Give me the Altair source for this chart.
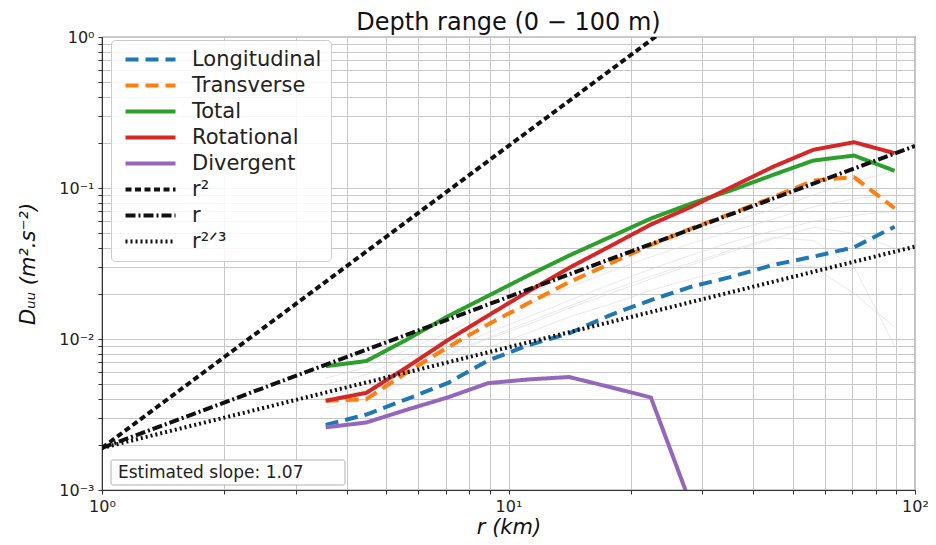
import altair as alt
import pandas as pd

# ---- data ----
r_km = [3.55, 4.47, 5.62, 7.08, 8.91, 11.2, 14.1, 17.8, 22.4, 28.2, 35.5, 44.7, 56.2, 70.8, 89.1]

longitudinal = [0.0027, 0.00316, 0.0040, 0.0051, 0.0072, 0.0091, 0.0109, 0.0144, 0.0181, 0.0222, 0.0259, 0.0309, 0.0351, 0.0405, 0.0554]
transverse = [0.0039, 0.0040, 0.0060, 0.0088, 0.0125, 0.0173, 0.0238, 0.0316, 0.042, 0.054, 0.068, 0.0868, 0.112, 0.118, 0.0734]
total = [0.0066, 0.00715, 0.0099, 0.0141, 0.0193, 0.0264, 0.0357, 0.0474, 0.0628, 0.079, 0.097, 0.122, 0.152, 0.164, 0.130]
rotational = [0.0039, 0.0044, 0.0065, 0.0098, 0.0143, 0.0207, 0.0296, 0.0412, 0.0573, 0.0752, 0.102, 0.138, 0.179, 0.201, 0.170]
divergent = [0.0026, 0.0028, 0.0034, 0.0041, 0.0051, 0.0054, 0.0056, 0.0048, 0.0041, 0.00078]

# faint individual profiles in the background
bg_profiles = [
    [0.0045, 0.0050, 0.0065, 0.0085, 0.011, 0.014, 0.018, 0.023, 0.029, 0.036, 0.044, 0.052, 0.060, 0.066, 0.070],
    [0.0040, 0.0046, 0.0060, 0.0078, 0.010, 0.0125, 0.016, 0.020, 0.025, 0.031, 0.038, 0.046, 0.055, 0.050, 0.040],
    [0.0050, 0.0058, 0.0075, 0.010, 0.013, 0.017, 0.022, 0.028, 0.035, 0.043, 0.052, 0.062, 0.075, 0.085, 0.090],
    [0.0035, 0.0040, 0.0052, 0.0068, 0.0088, 0.011, 0.014, 0.017, 0.021, 0.025, 0.029, 0.032, 0.030, 0.020, 0.012],
    [0.0055, 0.0065, 0.0085, 0.011, 0.015, 0.020, 0.026, 0.033, 0.041, 0.050, 0.060, 0.072, 0.090, 0.110, 0.130],
    [0.0042, 0.0048, 0.0062, 0.0080, 0.0102, 0.013, 0.0165, 0.021, 0.026, 0.032, 0.039, 0.047, 0.045, 0.030, 0.009],
]

ref_r = [1, 100]
ref_r2 = [0.0019, 19.0]
ref_r1 = [0.0019, 0.19]
ref_r23 = [0.0019, 0.0409]

series_names = ["Longitudinal", "Transverse", "Total", "Rotational", "Divergent", "r²", "r", "r²ᐟ³"]
series_colors = ["#1f77b4", "#ff7f0e", "#2ca02c", "#d62728", "#9467bd", "#111111", "#111111", "#111111"]
series_dash = [[13, 7], [13, 7], [1, 0], [1, 0], [1, 0], [6, 3.5], [10, 3, 2, 3], [2, 3]]
series_width = [4, 4, 3.5, 3.5, 3.5, 1.6, 1.6, 1.6]

slope_text = "Estimated slope: 1.07"

# ---- build tables ----
rows = []
for name, vals in zip(series_names[:5], [longitudinal, transverse, total, rotational, divergent]):
    for i, v in enumerate(vals):
        rows.append({"r": r_km[i], "D": v, "series": name, "idx": i})
for name, vals in zip(series_names[5:], [ref_r2, ref_r1, ref_r23]):
    for i, v in enumerate(vals):
        rows.append({"r": ref_r[i], "D": v, "series": name, "idx": i})
df = pd.DataFrame(rows)

bg_rows = []
for k, vals in enumerate(bg_profiles):
    for i, v in enumerate(vals):
        bg_rows.append({"r": r_km[i], "D": v, "prof": k, "idx": i})
bg = pd.DataFrame(bg_rows)

x_vals = [k * 10 ** e for e in range(0, 2) for k in range(1, 10)] + [100]
y_vals = [round(k * 10 ** e, 6) for e in range(-3, 0) for k in range(1, 10)] + [1]

x_label = "datum.value == 1 ? '10⁰' : datum.value == 10 ? '10¹' : datum.value == 100 ? '10²' : ''"
y_label = ("datum.value == 1 ? '10⁰' : datum.value == 0.1 ? '10⁻¹' : "
           "datum.value == 0.01 ? '10⁻²' : datum.value == 0.001 ? '10⁻³' : ''")

x_enc = alt.X("r:Q", scale=alt.Scale(type="log", domain=[1, 100]),
              axis=alt.Axis(values=x_vals, labelExpr=x_label, title="r (km)",
                            titleFontStyle="italic", titleFontWeight="normal"))
y_enc = alt.Y("D:Q", scale=alt.Scale(type="log", domain=[0.001, 1]),
              axis=alt.Axis(values=y_vals, labelExpr=y_label, title="Dᵤᵤ (m².s⁻²)",
                            titleFontStyle="italic", titleFontWeight="normal"))

background = alt.Chart(bg).mark_line(clip=True, strokeWidth=1, opacity=0.5).encode(
    x=x_enc, y=y_enc, detail="prof:N", order="idx:Q", color=alt.value("#d4d4d4"))

lines = alt.Chart(df).mark_line(clip=True, strokeCap="butt", strokeJoin="round").encode(
    x=x_enc, y=y_enc, order="idx:Q",
    color=alt.Color("series:N", scale=alt.Scale(domain=series_names, range=series_colors), title=None),
    strokeDash=alt.StrokeDash("series:N", scale=alt.Scale(domain=series_names, range=series_dash), title=None),
    strokeWidth=alt.StrokeWidth("series:N", scale=alt.Scale(domain=series_names, range=series_width), title=None),
)

box = alt.Chart(pd.DataFrame({"t": [slope_text]})).mark_rect(
    fill="white", stroke="#b0b0b0", strokeWidth=1, cornerRadius=2).encode(
    x=alt.value(9), x2=alt.value(243), y=alt.value(423), y2=alt.value(448))
txt = alt.Chart(pd.DataFrame({"t": [slope_text]})).mark_text(
    align="left", baseline="middle", fontSize=17, font="DejaVu Sans", color="#222").encode(
    text="t:N", x=alt.value(16), y=alt.value(436))

chart = alt.layer(background, lines, box, txt).properties(
    width=813, height=453,
    padding={"left": 94, "top": 29, "right": 13, "bottom": 47},
    autosize="none",
    title=alt.TitleParams("Depth range (0 − 100 m)", fontSize=24, font="DejaVu Sans",
                          fontWeight="normal", color="#111", offset=-6),
).configure_view(stroke="#333", strokeWidth=1.2).configure_axis(
    labelFont="DejaVu Sans", labelFontSize=16, labelColor="#222",
    titleFont="DejaVu Sans", titleFontSize=21, titleColor="#111",
    gridColor="#c8c8c8", gridWidth=1, gridOpacity=1,
    domainColor="#333", tickColor="#333", tickSize=4, labelPadding=4,
).configure_axisX(titlePadding=2, labelFlush=False).configure_axisY(titlePadding=20, labelFlush=False).configure_legend(
    orient="none", legendX=9, legendY=3,
    fillColor="rgba(255,255,255,0.85)", strokeColor="#cccccc", cornerRadius=4,
    padding=9, symbolType="M-5,0H5", symbolSize=100, symbolOffset=20, labelFont="DejaVu Sans",
    labelFontSize=21, labelColor="#222", rowPadding=4, labelOffset=31,
    labelLimit=250,
)

chart.save("out.html", embed_options={"renderer": "svg", "actions": False})
